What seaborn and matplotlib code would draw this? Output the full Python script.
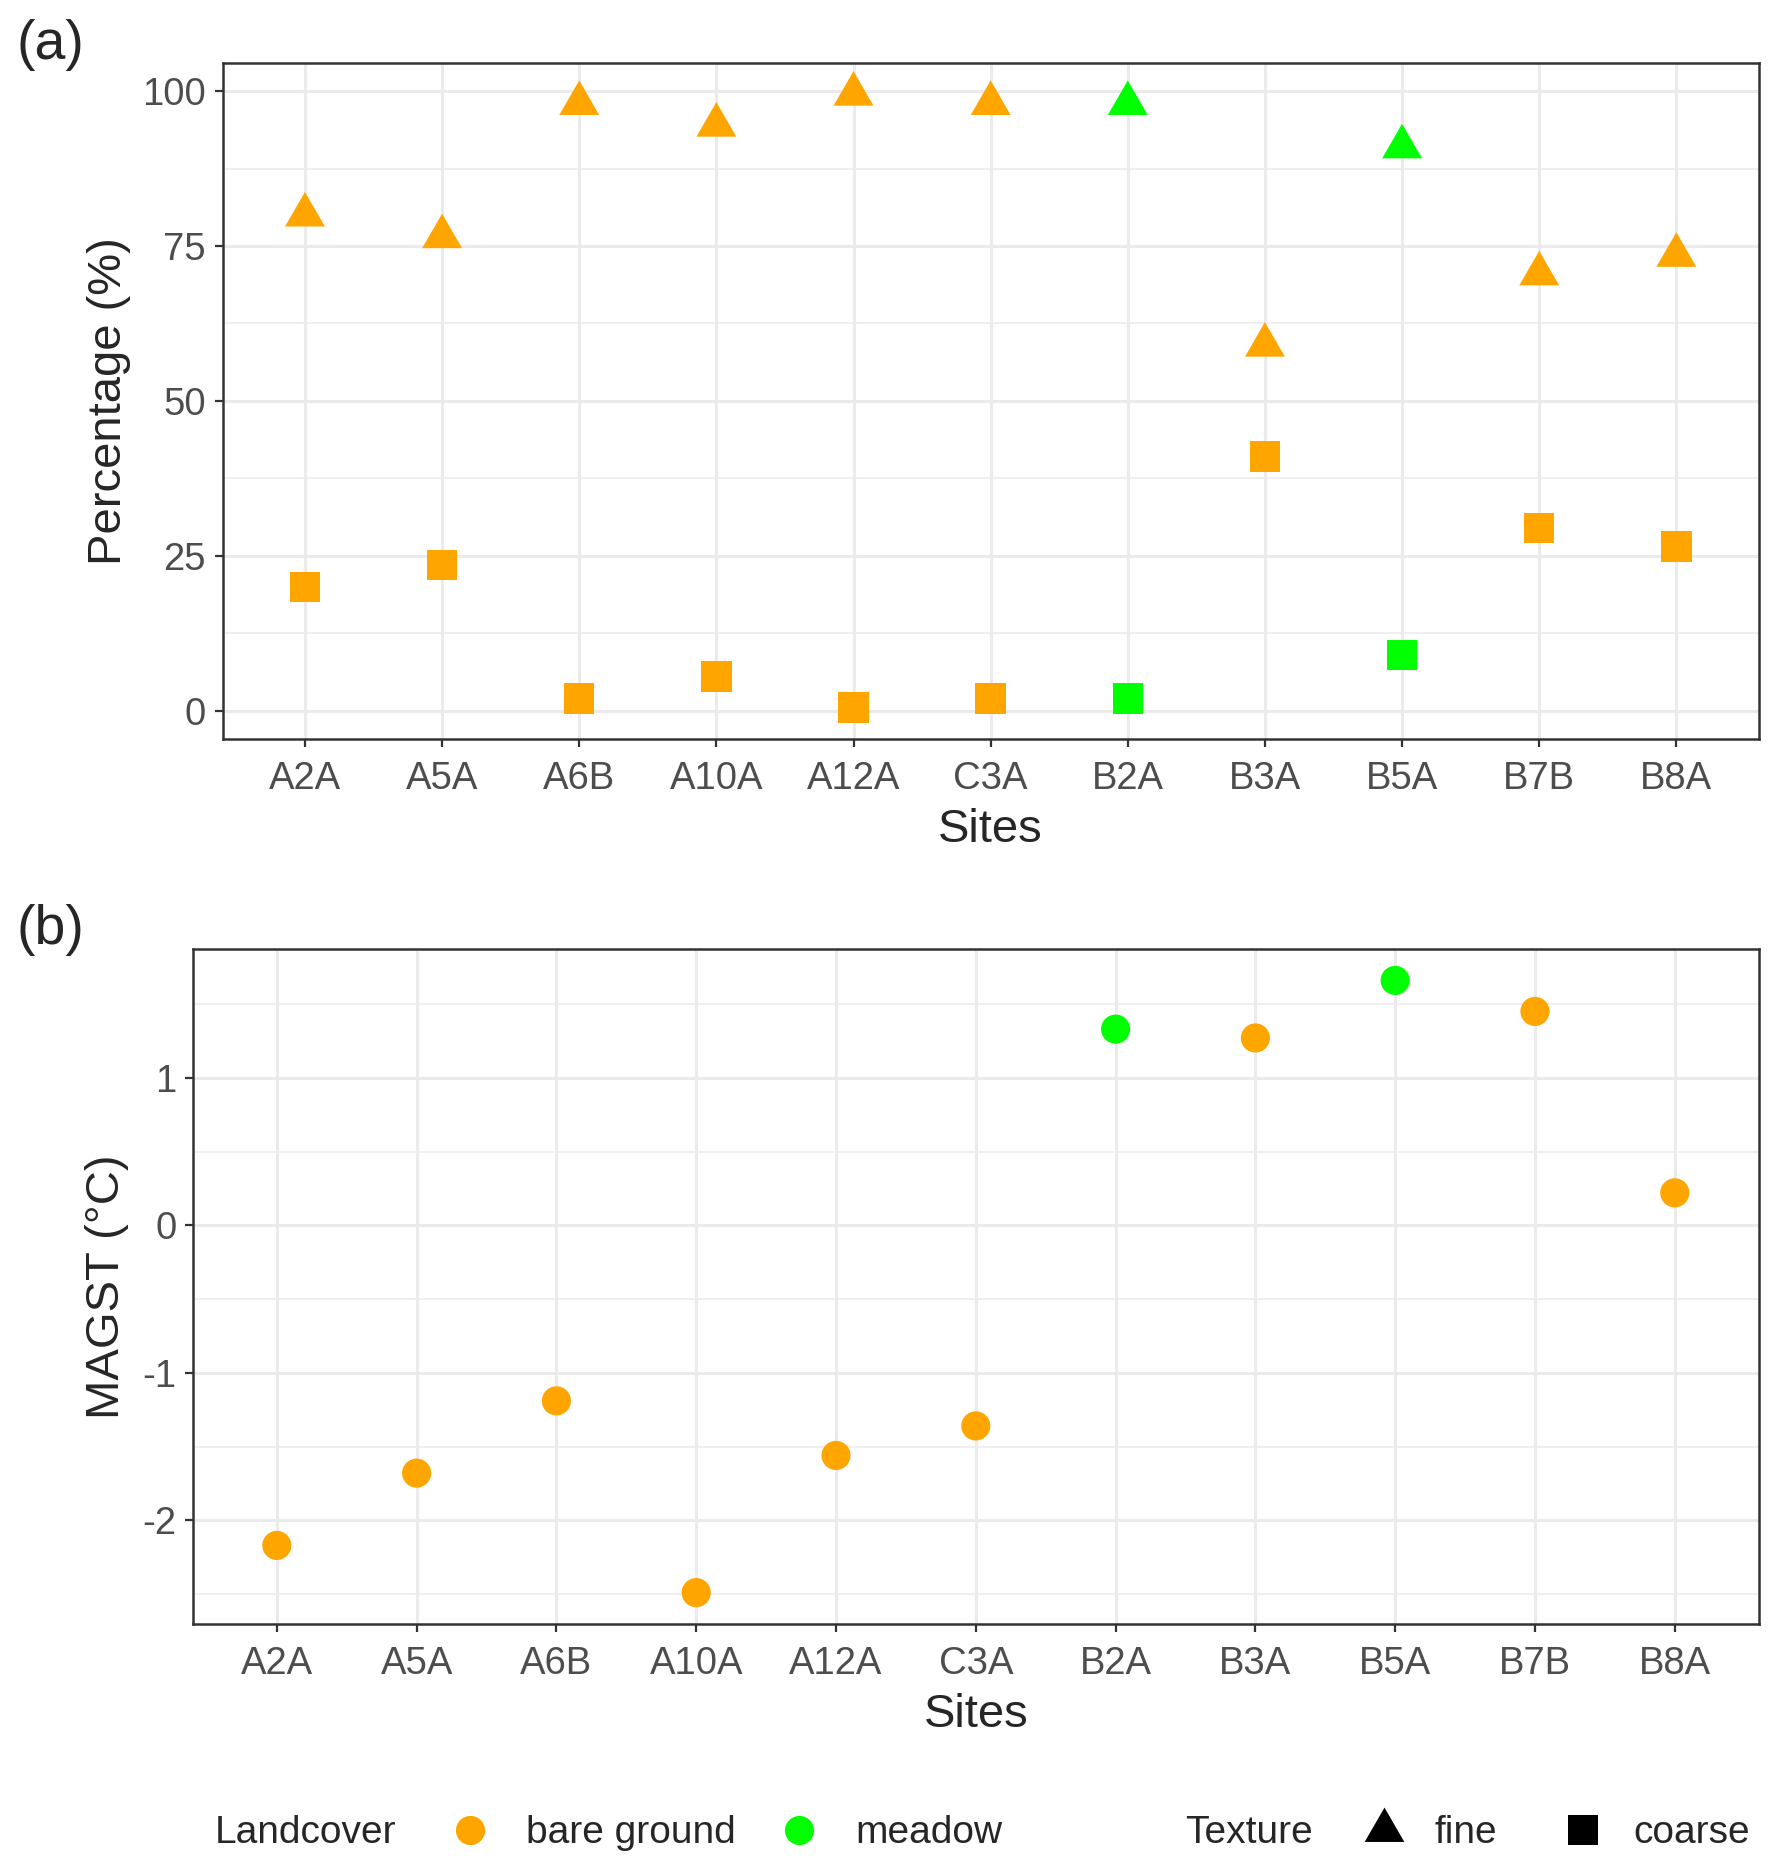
import pandas as pd
import matplotlib.pyplot as plt
import seaborn as sns
from matplotlib.markers import MarkerStyle
from matplotlib.lines import Line2D
from matplotlib.ticker import MultipleLocator

# data
sites = ['A2A', 'A5A', 'A6B', 'A10A', 'A12A', 'C3A', 'B2A', 'B3A', 'B5A', 'B7B', 'B8A']
landcover = ['bare ground', 'bare ground', 'bare ground', 'bare ground', 'bare ground',
             'bare ground', 'meadow', 'bare ground', 'meadow', 'bare ground', 'bare ground']
fine_pct = [80, 76.5, 98, 94.5, 99.5, 98, 98, 59, 91, 70.5, 73.5]
coarse_pct = [20, 23.5, 2, 5.5, 0.5, 2, 2, 41, 9, 29.5, 26.5]
magst = [-2.17, -1.68, -1.19, -2.49, -1.56, -1.36, 1.33, 1.27, 1.66, 1.45, 0.22]

colors = {'bare ground': '#FFA500', 'meadow': '#00FF00'}
tri = MarkerStyle([(-1, -0.5774), (1, -0.5774), (0, 1.1547)])
markers = {'fine': tri, 'coarse': 's'}

df_a = pd.concat([
    pd.DataFrame({'site': sites, 'landcover': landcover, 'texture': 'fine', 'pct': fine_pct}),
    pd.DataFrame({'site': sites, 'landcover': landcover, 'texture': 'coarse', 'pct': coarse_pct}),
])
df_b = pd.DataFrame({'site': sites, 'landcover': landcover, 'magst': magst})

sns.set_style('white')
plt.rcParams['font.family'] = ['Liberation Sans', 'DejaVu Sans']

fig = plt.figure(figsize=(17.8, 18.69), dpi=100)
ax1 = fig.add_axes([0.1251, 0.6048, 0.8629, 0.3614])
ax2 = fig.add_axes([0.1084, 0.1313, 0.8796, 0.3607])

sns.scatterplot(data=df_a, x='site', y='pct', hue='landcover', style='texture', size='texture',
                palette=colors, markers=markers, sizes={'fine': 1100, 'coarse': 480},
                linewidth=0, legend=False, ax=ax1, zorder=3)
sns.scatterplot(data=df_b, x='site', y='magst', hue='landcover', palette=colors,
                s=440, linewidth=0, legend=False, ax=ax2, zorder=3)

ax1.set_ylim(-4.5, 104.5)
ax1.set_yticks([0, 25, 50, 75, 100])
ax1.yaxis.set_minor_locator(MultipleLocator(12.5))
ax2.set_ylim(-2.70, 1.87)
ax2.set_yticks([-2, -1, 0, 1])
ax2.set_yticklabels(['-2', '-1', '0', '1'])
ax2.yaxis.set_minor_locator(MultipleLocator(0.5))

for ax in (ax1, ax2):
    ax.set_xlim(-0.6, len(sites) - 0.4)
    ax.set_axisbelow(True)
    ax.grid(which='major', color='#EBEBEB', lw=2.2)
    ax.grid(which='minor', axis='y', color='#EBEBEB', lw=1.1)
    for sp in ax.spines.values():
        sp.set_color('#333333')
        sp.set_linewidth(1.8)
    ax.tick_params(which='major', length=6, width=1.6, color='#333333',
                   labelcolor='#4D4D4D', labelsize=27.5, pad=6, bottom=True, left=True)
    ax.tick_params(axis='x', which='major', pad=10)
    ax.tick_params(which='minor', length=0)
    ax.set_xlabel('Sites', fontsize=34, labelpad=8)

ax1.set_ylabel('Percentage (%)', fontsize=34)
ax2.set_ylabel('MAGST (°C)', fontsize=34)
ax1.yaxis.set_label_coords(-0.0598, 0.5)
ax2.yaxis.set_label_coords(-0.0409, 0.5)

fig.text(0.009, 0.976, '(a)', fontsize=40, va='center')
fig.text(0.009, 0.5025, '(b)', fontsize=40, va='center')

# legend along the bottom
leg_y = 0.0192
fig.text(0.1204, leg_y, 'Landcover', fontsize=28, va='center')
fig.text(0.6656, leg_y, 'Texture', fontsize=28, va='center')
lc_handles = [Line2D([], [], ls='', marker='o', ms=21, mew=0, color=colors[k]) for k in colors]
tx_handles = [Line2D([], [], ls='', marker=tri, ms=33, mew=0, color='black'),
              Line2D([], [], ls='', marker='s', ms=22, mew=0, color='black')]
fig.legend(lc_handles, list(colors), loc='center left', bbox_to_anchor=(447 / 1780, leg_y),
           ncol=2, frameon=False, fontsize=28, handlelength=1.2, handletextpad=0.84,
           columnspacing=1.03, borderpad=0, borderaxespad=0)
fig.legend(tx_handles, ['fine', 'coarse'], loc='center left', bbox_to_anchor=(1361 / 1780, leg_y),
           ncol=2, frameon=False, fontsize=28, handlelength=1.2, handletextpad=0.7,
           columnspacing=1.6, borderpad=0, borderaxespad=0)

fig.savefig('out.png', dpi=100, facecolor='white')
